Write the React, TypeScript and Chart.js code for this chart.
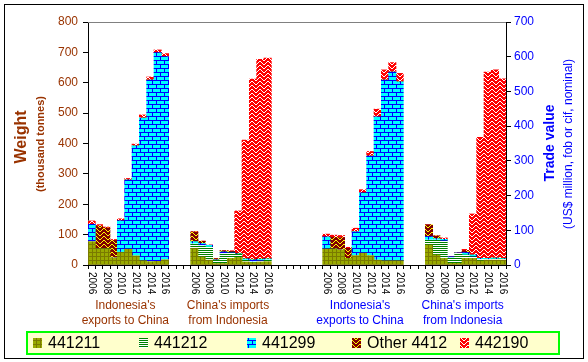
import React, { useEffect, useRef } from 'react';
import { Chart, registerables } from 'chart.js';

Chart.register(...registerables);

// ---------- data ----------
const YEARS = ['2006', '2007', '2008', '2009', '2010', '2011', '2012', '2013', '2014', '2015', '2016'];
const YEAR_TICKS = ['2006', '2008', '2010', '2012', '2014', '2016'];
const SERIES = ['441211', '441212', '441299', 'Other 4412', '442190'];
const GROUP_LABELS = [
  ["Indonesia's", 'exports to China'],
  ["China's imports", 'from Indonesia'],
  ["Indonesia's", 'exports to China'],
  ["China's imports", 'from Indonesia'],
];
// empty categories between groups
const GAPS = [3, 7, 3];

// Weight (thousand tonnes) - Indonesia's exports to China
const W_EXP_441211 = [77, 54, 54, 23, 42, 52, 30, 14, 11, 12, 17];
const W_EXP_441212 = [0, 0, 0, 0, 0, 0, 0, 0, 0, 0, 0];
const W_EXP_441299 = [57, 0, 0, 0, 104, 228, 362, 470, 598, 687, 669];
const W_EXP_OTHER = [0, 74, 68, 58, 0, 0, 0, 0, 0, 0, 0];
const W_EXP_442190 = [11, 5, 3, 3, 6, 5, 6, 10, 10, 9, 10];

// Weight - China's imports from Indonesia
const W_IMP_441211 = [55, 27, 16, 5, 5, 22, 25, 10, 8, 10, 11];
const W_IMP_441212 = [15, 37, 43, 11, 33, 18, 10, 6, 3, 3, 6];
const W_IMP_441299 = [7, 7, 6, 1, 5, 2, 2, 4, 6, 6, 3];
const W_IMP_OTHER = [32, 7, 0, 4, 4, 3, 2, 2, 2, 2, 2];
const W_IMP_442190 = [1, 1, 1, 0, 0, 2, 139, 389, 593, 656, 659];

// Trade value (US$ million) - Indonesia's exports to China
const V_EXP_441211 = [46, 46, 43, 19, 27, 34, 27, 14, 12, 12, 12];
const V_EXP_441212 = [0, 0, 0, 0, 0, 0, 0, 0, 0, 0, 0];
const V_EXP_441299 = [35, 0, 0, 0, 69, 174, 287, 413, 521, 544, 516];
const V_EXP_OTHER = [0, 34, 36, 29, 0, 0, 0, 0, 0, 0, 0];
const V_EXP_442190 = [8, 6, 6, 3, 10, 9, 13, 22, 29, 27, 24];

// Trade value - China's imports from Indonesia
const V_IMP_441211 = [58, 29, 19, 5, 5, 19, 19, 12, 14, 14, 14];
const V_IMP_441212 = [14, 43, 50, 16, 29, 10, 5, 4, 2, 3, 3];
const V_IMP_441299 = [10, 4, 5, 3, 1, 7, 5, 3, 3, 3, 2];
const V_IMP_OTHER = [34, 8, 0, 0, 0, 5, 0, 0, 0, 0, 0];
const V_IMP_442190 = [0, 0, 4, 0, 0, 4, 118, 349, 537, 542, 517];

const WEIGHT_TICKS_MAX = 800;
const VALUE_TICKS_MAX = 700;

const W_EXP = [W_EXP_441211, W_EXP_441212, W_EXP_441299, W_EXP_OTHER, W_EXP_442190];
const W_IMP = [W_IMP_441211, W_IMP_441212, W_IMP_441299, W_IMP_OTHER, W_IMP_442190];
const V_EXP = [V_EXP_441211, V_EXP_441212, V_EXP_441299, V_EXP_OTHER, V_EXP_442190];
const V_IMP = [V_IMP_441211, V_IMP_441212, V_IMP_441299, V_IMP_OTHER, V_IMP_442190];

// ---------- category layout ----------
type Cat = { group: number; year: number } | null;
const CATS: Cat[] = [];
const GROUP_START: number[] = [];
for (let g = 0; g < 4; g++) {
  GROUP_START.push(CATS.length);
  YEARS.forEach((_, j) => CATS.push({ group: g, year: j }));
  if (g < 3) for (let k = 0; k < GAPS[g]; k++) CATS.push(null);
}
const LABELS = CATS.map((c) => (c ? YEARS[c.year] : ''));

const BROWN = '#993300';
const BLUE = '#0000FF';
const FONT = 'Liberation Sans, Arial, Helvetica, sans-serif';

// ---------- patterns ----------
function tile(w: number, h: number, bg: string, fg: string, on: (x: number, y: number) => boolean) {
  const c = document.createElement('canvas');
  c.width = w;
  c.height = h;
  const t = c.getContext('2d')!;
  t.fillStyle = bg;
  t.fillRect(0, 0, w, h);
  t.fillStyle = fg;
  for (let y = 0; y < h; y++) for (let x = 0; x < w; x++) if (on(x, y)) t.fillRect(x, y, 1, 1);
  return c;
}

function makePatterns(ctx: CanvasRenderingContext2D) {
  const grid = tile(4, 4, '#99AA00', '#7A7A00', (x, y) => x === 0 || y === 0);
  const horiz = tile(4, 2, '#FFFFFF', '#008000', (_x, y) => y === 0);
  const brick = tile(8, 8, '#00FFFF', '#0000FF', (x, y) => y === 0 || y === 4 || (y < 4 && x === 0) || (y > 4 && x === 4));
  const zig = tile(8, 4, '#800000', '#FFFF00', (x, y) => (x < 4 ? x : 7 - x) === y);
  const weave = tile(8, 8, '#FF0000', '#FFFFFF', (x, y) =>
    x < 4 ? (x + y) % 4 === 0 : (x - y + 8) % 4 === 3
  );
  return [grid, horiz, brick, zig, weave].map((c) => ctx.createPattern(c, 'repeat')!);
}

function makeOverlay(patterns: CanvasPattern[]) {
  return {
    id: 'overlay',
    beforeDraw(chart: any) {
      const ctx = chart.ctx as CanvasRenderingContext2D;
      ctx.save();
      ctx.fillStyle = '#FFFFFF';
      ctx.fillRect(0, 0, chart.width, chart.height);
      ctx.restore();
    },
    afterDraw(chart: any) {
      const ctx = chart.ctx as CanvasRenderingContext2D;
      const area = chart.chartArea;
      const xs = chart.scales.x;
      ctx.save();

      // top border of plot area
      ctx.strokeStyle = '#808080';
      ctx.lineWidth = 1;
      ctx.beginPath();
      ctx.moveTo(area.left, Math.round(area.top) + 0.5);
      ctx.lineTo(area.right, Math.round(area.top) + 0.5);
      ctx.stroke();

      // year tick labels (rotated, reading top to bottom)
      ctx.fillStyle = '#000000';
      ctx.font = `10px ${FONT}`;
      ctx.textAlign = 'left';
      ctx.textBaseline = 'middle';
      GROUP_START.forEach((s) => {
        YEARS.forEach((y, j) => {
          if (!YEAR_TICKS.includes(y)) return;
          const x = xs.getPixelForValue(s + j);
          ctx.save();
          ctx.translate(x, area.bottom + 7);
          ctx.rotate(Math.PI / 2);
          ctx.fillText(y, 0, 0);
          ctx.restore();
        });
      });

      // group labels
      ctx.font = `12px ${FONT}`;
      ctx.textAlign = 'center';
      ctx.textBaseline = 'alphabetic';
      GROUP_START.forEach((s, g) => {
        const cx = (xs.getPixelForValue(s) + xs.getPixelForValue(s + YEARS.length - 1)) / 2 - 3;
        ctx.fillStyle = g < 2 ? BROWN : BLUE;
        ctx.fillText(GROUP_LABELS[g][0], cx, 309);
        ctx.fillText(GROUP_LABELS[g][1], cx, 324);
      });

      // axis titles
      const vtext = (t: string, x: number, y: number, font: string, color: string) => {
        ctx.save();
        ctx.translate(x, y);
        ctx.rotate(-Math.PI / 2);
        ctx.font = font;
        ctx.fillStyle = color;
        ctx.textAlign = 'center';
        ctx.textBaseline = 'middle';
        ctx.fillText(t, 0, 0);
        ctx.restore();
      };
      vtext('Weight', 22, 137, `bold 16px ${FONT}`, BROWN);
      vtext('(thousand tonnes)', 41, 144, `bold 11px ${FONT}`, BROWN);
      vtext('Trade value', 550, 143, `bold 14px ${FONT}`, BLUE);
      vtext('(US$ million, fob or cif, nominal)', 569, 144, `12px ${FONT}`, BLUE);

      // legend
      ctx.fillStyle = '#FFFFCC';
      ctx.fillRect(27, 332, 532, 22);
      ctx.strokeStyle = '#00FF00';
      ctx.lineWidth = 2;
      ctx.strokeRect(27, 332, 532, 22);
      const swX = [33, 139, 247, 352, 460];
      ctx.font = `16px ${FONT}`;
      ctx.textAlign = 'left';
      ctx.textBaseline = 'middle';
      SERIES.forEach((name, k) => {
        ctx.fillStyle = patterns[k];
        ctx.fillRect(swX[k], 338, 9, 10);
        ctx.fillStyle = '#000000';
        ctx.fillText(name, swX[k] + 15, 344);
      });

      // outer border
      ctx.strokeStyle = '#000000';
      ctx.lineWidth = 1;
      ctx.strokeRect(4.5, 4.5, 579, 354);
      ctx.restore();
    },
  };
}

export default function App() {
  const ref = useRef<HTMLCanvasElement>(null);
  useEffect(() => {
    const canvas = ref.current!;
    const ctx = canvas.getContext('2d')!;
    const patterns = makePatterns(ctx);

    const build = (axis: 'y' | 'y1', groups: number[], tables: number[][][]) =>
      SERIES.map((name, k) => ({
        label: name,
        yAxisID: axis,
        stack: 'all',
        backgroundColor: patterns[k],
        borderWidth: 0,
        data: CATS.map((c) => {
          if (!c) return null;
          const gi = groups.indexOf(c.group);
          return gi < 0 ? null : tables[gi][k][c.year];
        }),
      }));

    const datasets = [
      ...build('y', [0, 1], [W_EXP, W_IMP]),
      ...build('y1', [2, 3], [V_EXP, V_IMP]),
    ];

    const chart: any = new Chart(ctx, {
      type: 'bar',
      data: { labels: LABELS, datasets: datasets as any },
      options: {
        animation: false,
        responsive: false,
        maintainAspectRatio: false,
        layout: { padding: { top: 22, left: 0, right: 0, bottom: 0 } },
        plugins: { legend: { display: false }, tooltip: { enabled: false } },
        datasets: { bar: { categoryPercentage: 1, barPercentage: 1 } },
        scales: {
          x: {
            stacked: true,
            grid: { drawOnChartArea: false, tickLength: 4, color: '#000000', offset: true },
            border: { color: '#000000' },
            ticks: { display: false, autoSkip: false },
            afterFit: (s: any) => {
              s.height = 97;
            },
          },
          y: {
            stacked: true,
            min: 0,
            max: WEIGHT_TICKS_MAX,
            ticks: { stepSize: 100, color: BROWN, font: { family: FONT, size: 12 }, padding: 5 },
            grid: { drawOnChartArea: false, tickLength: 5, color: '#000000' },
            border: { color: '#000000' },
            afterFit: (s: any) => {
              s.width = 88;
            },
          },
          y1: {
            position: 'right',
            stacked: true,
            min: 0,
            max: VALUE_TICKS_MAX,
            ticks: { stepSize: 100, color: BLUE, font: { family: FONT, size: 12 }, padding: 3 },
            grid: { drawOnChartArea: false, tickLength: 5, color: '#000000' },
            border: { color: '#000000' },
            afterFit: (s: any) => {
              s.width = 82;
            },
          },
        },
      } as any,
      plugins: [makeOverlay(patterns) as any],
    });
    return () => chart.destroy();
  }, []);

  return (
    <div style={{ position: 'absolute', left: 0, top: 0, width: 588, height: 362 }}>
      <canvas ref={ref} width={588} height={362} style={{ width: 588, height: 362, display: 'block' }} />
    </div>
  );
}
